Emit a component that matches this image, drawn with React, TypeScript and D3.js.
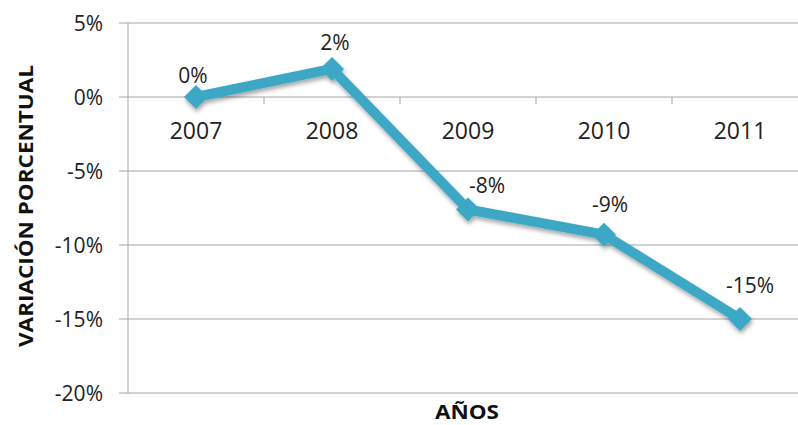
import React from "react";
import * as d3 from "d3";

// Year-over-year percentage change
const years = ["2007", "2008", "2009", "2010", "2011"];
const variation = [0, 1.9, -7.6, -9.3, -15.0];
const yTicks = [5, 0, -5, -10, -15, -20];

// Data label nudges (pixels) relative to each point
const labelDx = [-3, 3, 19, 6, 10];
const labelDy = [-14, -19, -16, -23, -26];

const W = 798;
const H = 425;
const plot = { left: 128, right: 808, top: 23, bottom: 393 };
const lineColor = "#3ea8c6";
const gridColor = "#a6a6a6";
const font = "'Open Sans', 'DejaVu Sans', sans-serif";

export default function App() {
  const x = d3
    .scaleBand<string>()
    .domain(years)
    .range([plot.left, plot.right])
    .paddingInner(0)
    .paddingOuter(0);
  const y = d3.scaleLinear().domain([-20, 5]).range([plot.bottom, plot.top]);

  const cx = (i: number) => (x(years[i]) as number) + x.bandwidth() / 2;
  const line = d3
    .line<number>()
    .x((_, i) => cx(i))
    .y((d) => y(d));

  const fmt = (v: number) => `${Math.round(v)}%`;
  const r = 12;
  const diamond = `M0,${-r}L${r},0L0,${r}L${-r},0Z`;

  return (
    <svg
      width={W}
      height={H}
      style={{ position: "absolute", left: 0, top: 0, display: "block", background: "#fff" }}
    >
      <defs>
        <filter id="shadow" x="-20%" y="-20%" width="140%" height="140%">
          <feDropShadow dx="1" dy="3" stdDeviation="2" floodColor="#000" floodOpacity="0.35" />
        </filter>
      </defs>
      <rect width={W} height={H} fill="#fff" />

      {/* horizontal gridlines and y ticks */}
      {yTicks.map((t) => (
        <g key={t}>
          <line x1={plot.left - 9} x2={plot.right} y1={y(t)} y2={y(t)} stroke={gridColor} strokeWidth={1} />
          <text
            x={103}
            y={y(t)}
            dy="0.36em"
            textAnchor="end"
            fontFamily={font}
            fontSize={21}
            fill="#222"
          >
            {`${t}%`}
          </text>
        </g>
      ))}

      {/* vertical axis */}
      <line x1={plot.left} x2={plot.left} y1={plot.top} y2={plot.bottom} stroke={gridColor} strokeWidth={1} />

      {/* category ticks on the zero line */}
      {years.slice(1).map((yr) => (
        <line
          key={yr}
          x1={x(yr) as number}
          x2={x(yr) as number}
          y1={y(0)}
          y2={y(0) + 7}
          stroke={gridColor}
          strokeWidth={1}
        />
      ))}

      {/* category labels */}
      {years.map((yr, i) => (
        <text
          key={yr}
          x={cx(i)}
          y={139}
          textAnchor="middle"
          fontFamily={font}
          fontSize={23}
          fill="#222"
        >
          {yr}
        </text>
      ))}

      {/* series */}
      <g filter="url(#shadow)">
        <path d={line(variation) as string} fill="none" stroke={lineColor} strokeWidth={10} strokeLinejoin="round" />
        {variation.map((v, i) => (
          <path key={i} d={diamond} transform={`translate(${cx(i)},${y(v)})`} fill={lineColor} />
        ))}
      </g>

      {/* data labels */}
      {variation.map((v, i) => (
        <text
          key={i}
          x={cx(i) + labelDx[i]}
          y={y(v) + labelDy[i]}
          textAnchor="middle"
          fontFamily={font}
          fontSize={21}
          fill="#222"
        >
          {fmt(v)}
        </text>
      ))}

      {/* axis titles */}
      <text
        transform={`translate(33,206) rotate(-90)`}
        textAnchor="middle"
        fontFamily={font}
        fontWeight="bold"
        fontSize={20}
        textLength={282}
        lengthAdjust="spacingAndGlyphs"
        fill="#111"
      >
        VARIACIÓN PORCENTUAL
      </text>
      <text
        x={467}
        y={419}
        textAnchor="middle"
        fontFamily={font}
        fontWeight="bold"
        fontSize={20}
        textLength={64}
        lengthAdjust="spacingAndGlyphs"
        fill="#111"
      >
        AÑOS
      </text>
    </svg>
  );
}
